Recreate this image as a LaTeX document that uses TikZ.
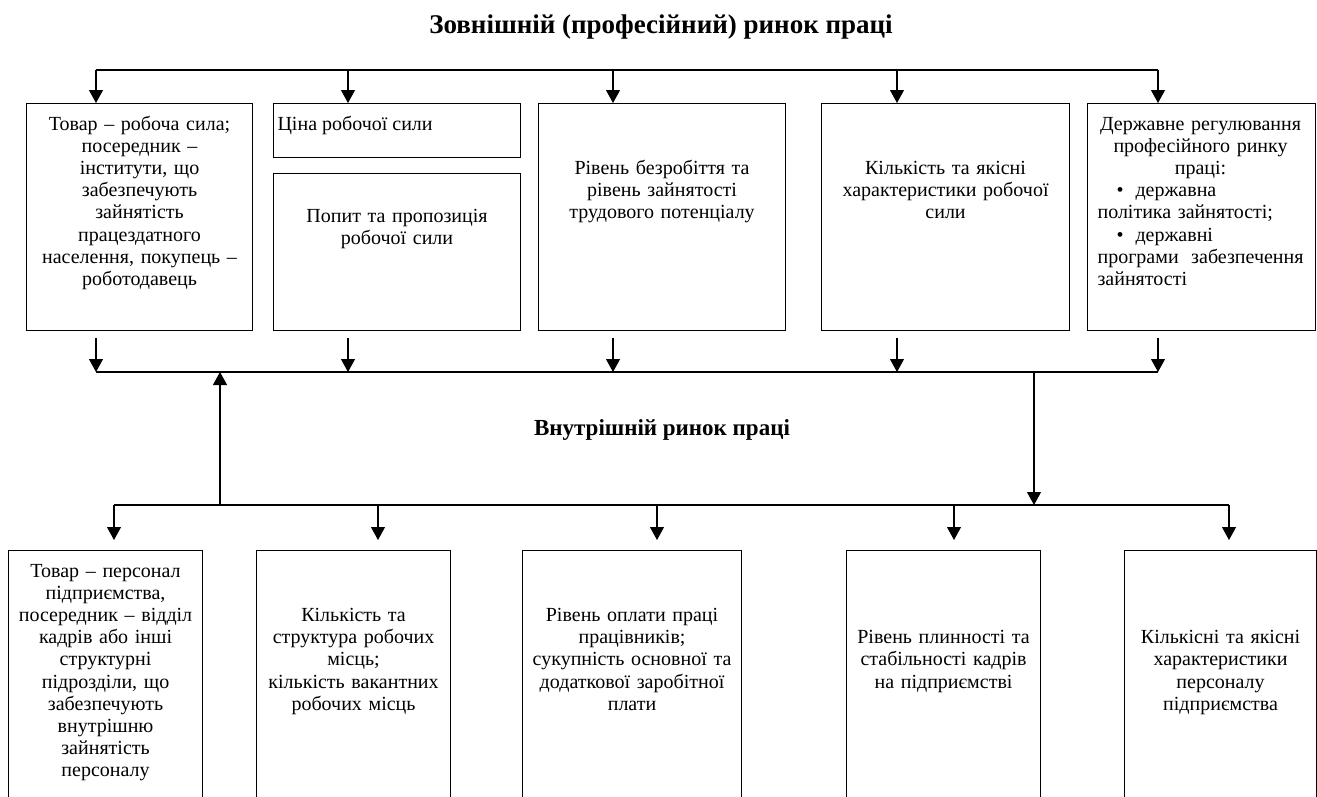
\documentclass[tikz,border=0pt]{standalone}
\usepackage{fontspec}
\setmainfont{Liberation Serif}
\usetikzlibrary{arrows.meta,positioning}
\tikzset{
	box/.style={draw, rectangle, inner sep=0pt, anchor=north west},
	txt/.style={inner sep=0pt, anchor=base, align=center,
		font=\fontsize{20}{22.2}\selectfont},
	heading/.style={inner sep=0pt, font=\bfseries\fontsize{27}{31}\selectfont},
	subheading/.style={inner sep=0pt, font=\bfseries\fontsize{23}{27}\selectfont},
	arr/.style={-{Triangle[width=14pt,length=13pt]}}, % filled heads
}

\begin{document}
\begin{tikzpicture}[x=1pt, y=-1pt, line width=1.1pt]
      \useasboundingbox (0,0) rectangle (1317,796);
      \clip (0,0) rectangle (1317,796);

      \node[heading] (extTitle) at (661,27) {Зовнішній (професійний) ринок праці};
      \node[subheading] (intTitle) at (662,430) {Внутрішній ринок праці};

      % upper row
      \node[box, minimum width=226pt, minimum height=227pt] (ext1) at (26,103) {};
      \node[box, minimum width=247pt, minimum height=54pt] (ext2a) at (273,103) {};
      \node[box, minimum width=247pt, minimum height=157pt] (ext2b) at (273,173) {};
      \node[box, minimum width=247pt, minimum height=227pt] (ext3) at (538,103) {};
      \node[box, minimum width=248pt, minimum height=227pt] (ext4) at (821,103) {};
      \node[box, minimum width=228pt, minimum height=227pt] (ext5) at (1087,103) {};

      \node[txt, text width=218pt] (ext1t) at ([yshift=-27pt]ext1.north)
        {Товар – робоча сила;\\ посередник –\\ інститути, що\\ забезпечують\\ зайнятість\\ працездатного\\ населення, покупець –\\ роботодавець};
      \node[txt, anchor=base west] (ext2at) at ([xshift=4pt,yshift=-27pt]ext2a.north west) {Ціна робочої сили};
      \node[txt, text width=239pt] (ext2bt) at ([yshift=-49.2pt]ext2b.north) {Попит та пропозиція\\ робочої сили};
      \node[txt, text width=239pt] (ext3t) at ([yshift=-71.4pt]ext3.north) {Рівень безробіття та\\ рівень зайнятості\\ трудового потенціалу};
      \node[txt, text width=240pt] (ext4t) at ([yshift=-71.4pt]ext4.north) {Кількість та якісні\\ характеристики робочої\\ сили};
      \node[txt, align=left, text width=206pt, anchor=base west] (ext5t) at ([xshift=10pt,yshift=-27pt]ext5.north west)
        {\makebox[206pt]{Державне регулювання}\\ \makebox[206pt]{професійного ринку}\\ \makebox[206pt]{праці:}\\
         \hspace*{19pt}•\hspace{12pt}державна\\ політика зайнятості;\\ \hspace*{19pt}•\hspace{12pt}державні\\
         \makebox[206pt][s]{програми\hfill забезпечення}\\ зайнятості};

      % lower row
      \node[box, minimum width=194pt, minimum height=260pt] (int1) at (8,550) {};
      \node[box, minimum width=194pt, minimum height=260pt] (int2) at (256,550) {};
      \node[box, minimum width=219pt, minimum height=260pt] (int3) at (522,550) {};
      \node[box, minimum width=194pt, minimum height=260pt] (int4) at (846,550) {};
      \node[box, minimum width=192pt, minimum height=260pt] (int5) at (1124,550) {};

      \node[txt, text width=186pt] (int1t) at ([yshift=-27pt]int1.north)
        {Товар – персонал\\ підприємства,\\ посередник – відділ\\ кадрів або інші\\ структурні\\ підрозділи, що\\ забезпечують\\ внутрішню\\ зайнятість\\ персоналу};
      \node[txt, text width=186pt] (int2t) at ([yshift=-71.4pt]int2.north)
        {Кількість та\\ структура робочих\\ місць;\\ кількість вакантних\\ робочих місць};
      \node[txt, text width=211pt] (int3t) at ([yshift=-71.4pt]int3.north)
        {Рівень оплати праці\\ працівників;\\ сукупність основної та\\ додаткової заробітної\\ плати};
      \node[txt, text width=186pt] (int4t) at ([yshift=-93.6pt]int4.north)
        {Рівень плинності та\\ стабільності кадрів\\ на підприємстві};
      \node[txt, text width=184pt] (int5t) at ([yshift=-93.6pt]int5.north)
        {Кількісні та якісні\\ характеристики\\ персоналу\\ підприємства};

      % buses
      \coordinate (t1) at (96,70);   \coordinate (t2) at (348,70);  \coordinate (t3) at (613,70);
      \coordinate (t4) at (897,70);  \coordinate (t5) at (1158,70);
      \coordinate (m1) at (96,372);  \coordinate (m2) at (348,372); \coordinate (m3) at (613,372);
      \coordinate (m4) at (897,372); \coordinate (m5) at (1158,372);
      \coordinate (b1) at (114,505); \coordinate (b2) at (378,505); \coordinate (b3) at (657,505);
      \coordinate (b4) at (954,505); \coordinate (b5) at (1229,505);
      \coordinate (up) at (220,505); \coordinate (dn) at (1034,372);

      \draw (t1) -- (t5);
      \draw[arr] (t1) -- (t1 |- ext1.north);
      \draw[arr] (t2) -- (t2 |- ext2a.north);
      \draw[arr] (t3) -- (t3 |- ext3.north);
      \draw[arr] (t4) -- (t4 |- ext4.north);
      \draw[arr] (t5) -- (t5 |- ext5.north);

      \draw[arr] ([yshift=-7pt]ext1.south -| m1) -- (m1);
      \draw[arr] ([yshift=-7pt]ext2b.south -| m2) -- (m2);
      \draw[arr] ([yshift=-7pt]ext3.south -| m3) -- (m3);
      \draw[arr] ([yshift=-7pt]ext4.south -| m4) -- (m4);
      \draw[arr] ([yshift=-7pt]ext5.south -| m5) -- (m5);
      \draw (m1) -- (m5);

      \draw[arr] (up) -- (up |- m1);
      \draw[arr] (dn) -- (dn |- b1);

      \draw (b1) -- (b5);
      \draw[arr] (b1) -- ([yshift=10pt]int1.north -| b1);
      \draw[arr] (b2) -- ([yshift=10pt]int2.north -| b2);
      \draw[arr] (b3) -- ([yshift=10pt]int3.north -| b3);
      \draw[arr] (b4) -- ([yshift=10pt]int4.north -| b4);
      \draw[arr] (b5) -- ([yshift=10pt]int5.north -| b5);
\end{tikzpicture}
\end{document}
